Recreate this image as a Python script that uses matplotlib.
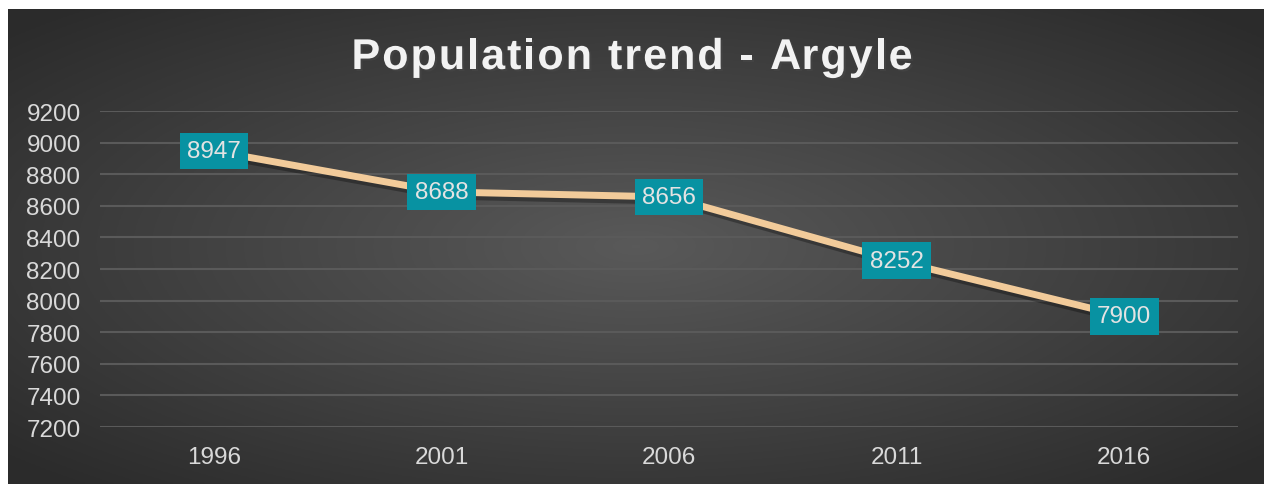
import numpy as np
import matplotlib
matplotlib.use("Agg")
import matplotlib.pyplot as plt
import matplotlib.patheffects as pe

plt.rcParams['font.family'] = ['Liberation Sans', 'DejaVu Sans']

years = ['1996', '2001', '2006', '2011', '2016']
population = [8947, 8688, 8656, 8252, 7900]
yticks = list(range(7200, 9201, 200))
title = 'Population trend - Argyle'

W, H = 1264, 485
fig = plt.figure(figsize=(W / 100, H / 100), dpi=100)
fig.patch.set_facecolor('white')

# dark radial gradient background
bg = fig.add_axes([8 / W, 0, 1 - 8 / W, 1 - 10 / H])
bg.set_axis_off()
gx, gy = np.meshgrid(np.linspace(-1, 1, 600), np.linspace(-1, 1, 240))
r = np.clip(np.sqrt(gx ** 2 + gy ** 2) / 1.35, 0, 1)
shade = 0.35 - 0.18 * r
bg.imshow(np.dstack([shade] * 3), aspect='auto', extent=[0, 1, 0, 1])

ax = fig.add_axes([100 / W, (H - 428) / H, (1238 - 100) / W, (428 - 112) / H])
ax.patch.set_alpha(0)
x = np.arange(len(years))
ax.plot(x, population, color='#f2cb9a', lw=5, solid_capstyle='butt', zorder=3,
        path_effects=[pe.SimpleLineShadow(offset=(2, -3), shadow_color='black', alpha=0.3),
                      pe.Normal()])
for xi, v in zip(x, population):
    ax.text(xi, v, str(v), ha='center', va='center', fontsize=17.5, color='#e3e3e3', zorder=5,
            bbox=dict(boxstyle='square,pad=0.3', fc='#0892a2', ec='none'))

ax.set_xlim(-0.5, len(years) - 0.5)
ax.set_ylim(7200, 9200)
ax.set_yticks(yticks)
ax.set_xticks(x)
ax.set_xticklabels(years)
ax.tick_params(axis='both', length=0, labelsize=17.5, colors='#d9d9d9')
ax.tick_params(axis='y', pad=53)
for lab in ax.get_yticklabels():
    lab.set_horizontalalignment('left')
ax.tick_params(axis='x', pad=14)
ax.grid(axis='y', color='#5a5a5a', lw=1.5)
ax.set_axisbelow(True)
for s in ax.spines.values():
    s.set_visible(False)

# title with letter spacing, drawn char by char
renderer = fig.canvas.get_renderer()
tprops = dict(fontsize=31, fontweight='bold', color='#f2f2f2', va='baseline', ha='left',
              path_effects=[pe.withSimplePatchShadow(offset=(1.5, -1.5), alpha=0.5)])
probe = fig.text(0, 0, title, **tprops)
natural = probe.get_window_extent(renderer).width
probe.remove()
target = 561
sp = (target - natural) / (len(title) - 1)
x0 = (W - target) / 2
for i, ch in enumerate(title):
    if i:
        p = fig.text(0, 0, title[:i], **tprops)
        off = p.get_window_extent(renderer).width
        p.remove()
    else:
        off = 0
    fig.text((x0 + off + i * sp) / W, 1 - 70 / H, ch, **tprops)

fig.savefig('out.png', dpi=100)
